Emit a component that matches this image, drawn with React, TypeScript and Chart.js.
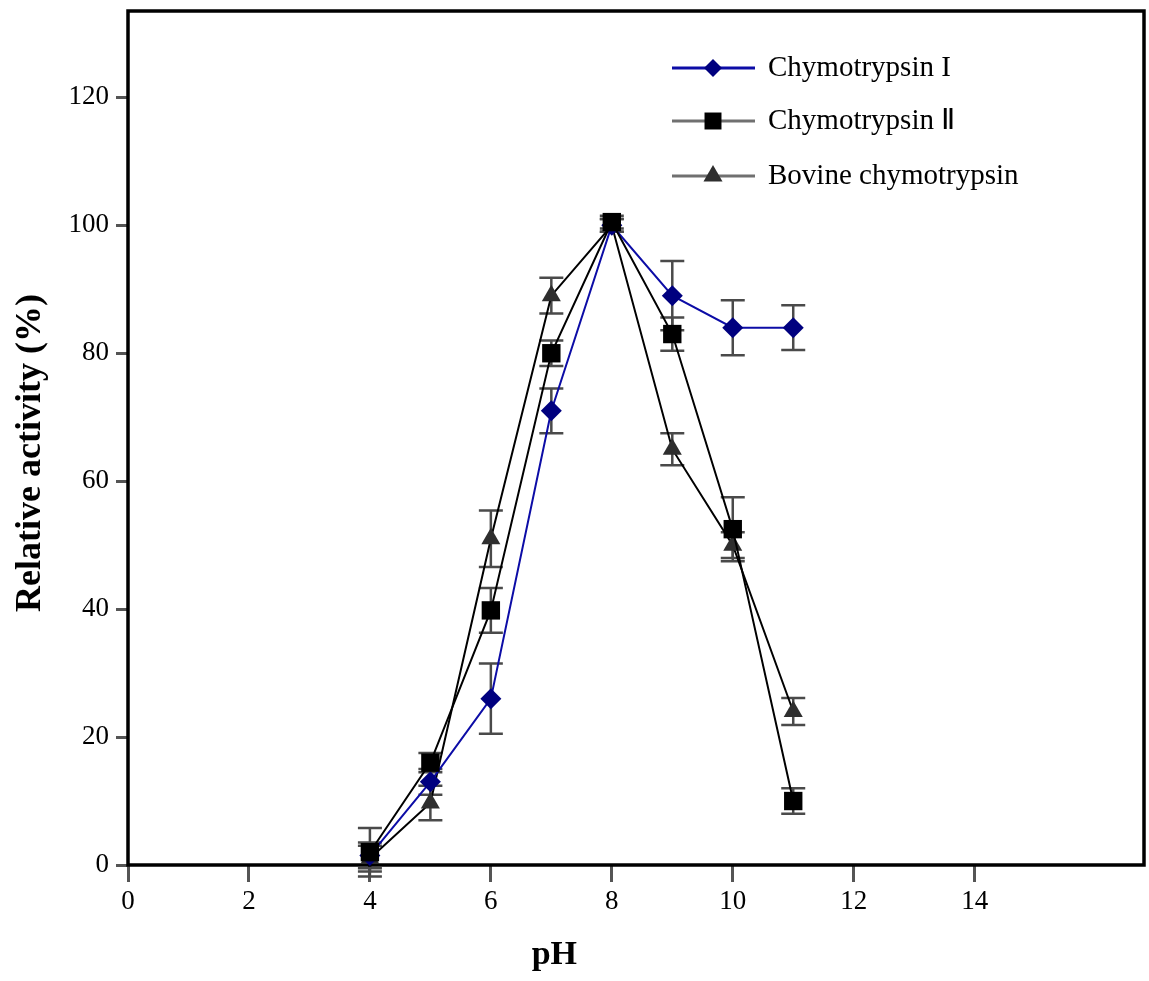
import React, { useEffect, useRef } from "react";
import { Chart, registerables } from "chart.js";

Chart.register(...registerables);

// ---- data ----
const phValues = [4, 5, 6, 7, 8, 9, 10, 11];
const chymoI = [1.5, 13, 26, 71, 100, 89, 84, 84];
const chymoIErr = [2, 2, 5.5, 3.5, 1, 5.4, 4.3, 3.5];
const chymoII = [2, 16, 39.8, 80, 100.5, 83, 52.5, 10];
const chymoIIErr = [3.8, 1.5, 3.5, 2, 1, 2.6, 5, 2];
const bovine = [1, 9.7, 51, 89, 100, 65, 50, 24];
const bovineErr = [2, 2.7, 4.4, 2.8, 1, 2.5, 2, 2.1];
const seriesNames = ["Chymotrypsin I", "Chymotrypsin Ⅱ", "Bovine chymotrypsin"];
const xTicks = [0, 2, 4, 6, 8, 10, 12, 14];
const yTicks = [0, 20, 40, 60, 80, 100, 120];
const xTitle = "pH";
const yTitle = "Relative activity (%)";

const FONT = "'Liberation Serif', 'Times New Roman', serif";
const BLUE_LINE = "#0c0ca6";
const BLUE_MARK = "#00007f";

// canvas is shifted up by this many px inside the page
const SHIFT_Y = 2;
const CANVAS_W = 1157;
const CANVAS_H = 983;

const errSets = [chymoIErr, chymoIIErr, bovineErr];
const valSets = [chymoI, chymoII, bovine];

const errorBarPlugin = {
  id: "errorBars",
  beforeDatasetsDraw(chart: any) {
    const { ctx, scales } = chart;
    const xs = scales.x;
    const ys = scales.y;
    ctx.save();
    ctx.strokeStyle = "#4a4a4a";
    ctx.lineWidth = 2.5;
    valSets.forEach((vals, si) => {
      vals.forEach((v, i) => {
        const e = errSets[si][i];
        const px = xs.getPixelForValue(phValues[i]);
        const top = ys.getPixelForValue(v + e);
        const bot = ys.getPixelForValue(v - e);
        ctx.beginPath();
        ctx.moveTo(px, top);
        ctx.lineTo(px, bot);
        ctx.moveTo(px - 12, top);
        ctx.lineTo(px + 12, top);
        ctx.moveTo(px - 12, bot);
        ctx.lineTo(px + 12, bot);
        ctx.stroke();
      });
    });
    // frame
    const a = chart.chartArea;
    ctx.strokeStyle = "#000";
    ctx.lineWidth = 3.5;
    ctx.strokeRect(a.left, a.top, a.right - a.left, a.bottom - a.top);
    ctx.restore();
  },
};

function drawMarker(ctx: any, style: string, x: number, y: number, r: number, fill: string) {
  ctx.fillStyle = fill;
  ctx.beginPath();
  if (style === "rectRot") {
    ctx.moveTo(x, y - r);
    ctx.lineTo(x + r, y);
    ctx.lineTo(x, y + r);
    ctx.lineTo(x - r, y);
  } else if (style === "rect") {
    const s = r * Math.SQRT1_2;
    ctx.rect(x - s, y - s, 2 * s, 2 * s);
  } else {
    const h = r * 1.5;
    ctx.moveTo(x, y - r);
    ctx.lineTo(x + h / Math.sqrt(3), y + r * 0.5);
    ctx.lineTo(x - h / Math.sqrt(3), y + r * 0.5);
  }
  ctx.closePath();
  ctx.fill();
}

const legendPlugin = {
  id: "customLegend",
  afterDraw(chart: any) {
    const { ctx } = chart;
    const rows = [68, 121, 176];
    const lineColors = [BLUE_LINE, "#707070", "#707070"];
    const styles = ["rectRot", "rect", "triangle"];
    const fills = [BLUE_MARK, "#000", "#2e2e2e"];
    const radii = [9, 12, 11];
    ctx.save();
    ctx.translate(0, SHIFT_Y);
    seriesNames.forEach((name, i) => {
      const y = rows[i];
      ctx.strokeStyle = lineColors[i];
      ctx.lineWidth = 3;
      ctx.beginPath();
      ctx.moveTo(672, y);
      ctx.lineTo(755, y);
      ctx.stroke();
      drawMarker(ctx, styles[i], 713, y, radii[i], fills[i]);
      ctx.fillStyle = "#000";
      ctx.font = `29px ${FONT}`;
      ctx.textAlign = "left";
      ctx.textBaseline = "middle";
      ctx.fillText(name, 768, y);
    });
    // axis titles
    const xs = chart.scales.x;
    ctx.font = `bold 34px ${FONT}`;
    ctx.textAlign = "center";
    ctx.textBaseline = "middle";
    ctx.fillText(xTitle, xs.getPixelForValue(7.05), 955);
    ctx.translate(31, 453);
    ctx.rotate(-Math.PI / 2);
    ctx.font = `bold 36px ${FONT}`;
    ctx.fillText(yTitle, 0, 0);
    ctx.restore();
  },
};

export default function App() {
  const ref = useRef<HTMLCanvasElement | null>(null);

  useEffect(() => {
    if (!ref.current) return;
    const mk = (vals: number[]) => vals.map((v, i) => ({ x: phValues[i], y: v }));
    const chart = new Chart(ref.current, {
      type: "line",
      data: {
        datasets: [
          {
            label: seriesNames[0],
            data: mk(chymoI),
            borderColor: BLUE_LINE,
            backgroundColor: BLUE_MARK,
            borderWidth: 2,
            pointStyle: "rectRot",
            pointRadius: 10.5,
            pointBorderWidth: 0,
            order: 1,
            clip: false as any,
          },
          {
            label: seriesNames[1],
            data: mk(chymoII),
            borderColor: "#000",
            backgroundColor: "#000",
            borderWidth: 2,
            pointStyle: "rect",
            pointRadius: 13,
            pointBorderWidth: 0,
            order: 0,
            clip: false as any,
          },
          {
            label: seriesNames[2],
            data: mk(bovine),
            borderColor: "#000",
            backgroundColor: "#2e2e2e",
            borderWidth: 2,
            pointStyle: "triangle",
            pointRadius: 11,
            pointBorderWidth: 0,
            order: 2,
            clip: false as any,
          },
        ],
      },
      options: {
        responsive: false,
        animation: false,
        layout: { padding: { left: 0, top: 0, right: 0, bottom: 0 } },
        plugins: { legend: { display: false }, tooltip: { enabled: false } },
        elements: { line: { tension: 0 } },
        scales: {
          x: {
            type: "linear",
            min: 0,
            max: 16.8,
            afterBuildTicks: (s: any) => {
              s.ticks = xTicks.map((v) => ({ value: v }));
            },
            afterFit: (s: any) => {
              s.height = 981 - 865;
            },
            ticks: {
              font: { family: FONT, size: 27 },
              color: "#000",
              padding: 4,
              maxRotation: 0,
            },
            grid: {
              drawOnChartArea: false,
              drawTicks: true,
              tickLength: 17,
              tickColor: "#555",
              tickWidth: 3,
            },
            border: { display: false },
          },
          y: {
            type: "linear",
            min: 0,
            max: 133.5,
            afterBuildTicks: (s: any) => {
              s.ticks = yTicks.map((v) => ({ value: v }));
            },
            afterFit: (s: any) => {
              s.width = 128;
              s.paddingTop = 0;
              s.paddingBottom = 0;
            },
            ticks: {
              font: { family: FONT, size: 27 },
              color: "#000",
              padding: 7,
            },
            grid: {
              drawOnChartArea: false,
              drawTicks: true,
              tickLength: 12,
              tickColor: "#555",
              tickWidth: 3,
            },
            border: { display: false },
          },
        },
      },
      plugins: [errorBarPlugin, legendPlugin],
    } as any);
    return () => chart.destroy();
  }, []);

  return (
    <div
      style={{
        position: "fixed",
        left: 0,
        top: 0,
        width: 1149,
        height: 981,
        overflow: "hidden",
        background: "#fff",
      }}
    >
      <canvas
        ref={ref}
        width={CANVAS_W}
        height={CANVAS_H}
        style={{
          position: "absolute",
          left: 0,
          top: -SHIFT_Y,
          width: CANVAS_W,
          height: CANVAS_H,
          display: "block",
        }}
      />
    </div>
  );
}
